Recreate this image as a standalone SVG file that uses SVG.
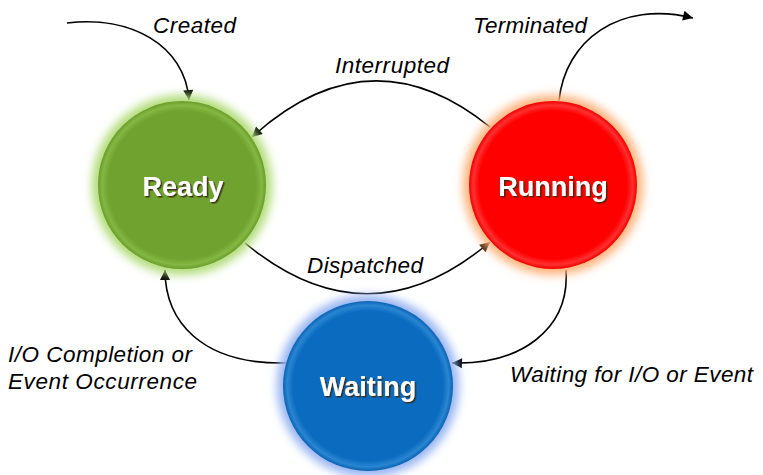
<svg xmlns="http://www.w3.org/2000/svg" width="763" height="475" viewBox="0 0 763 475">
<style>
.lbl{font-family:"Liberation Sans",Arial,sans-serif;font-style:italic;font-size:22.5px;fill:#000}
.node{font-family:"Liberation Sans",Arial,sans-serif;font-weight:bold;font-size:27px;fill:#fff;text-anchor:middle;filter:url(#ts)}
.edge{fill:none;stroke:#000;stroke-width:1.6}
</style>
<defs>
<marker id="ah" viewBox="0 0 10 10" refX="10" refY="5" markerWidth="12" markerHeight="10" markerUnits="userSpaceOnUse" orient="auto"><path d="M0,0 L10,5 L0,10 z" fill="#000"/></marker>
<marker id="ahb" viewBox="0 0 10 10" refX="10" refY="5" markerWidth="12" markerHeight="10" markerUnits="userSpaceOnUse" orient="auto"><path d="M0,0 L10,5 L0,10 z" fill="#3d2410"/></marker>
<filter id="glow" x="-30%" y="-30%" width="160%" height="160%"><feGaussianBlur stdDeviation="5"/></filter>
<filter id="ts" x="-10%" y="-20%" width="130%" height="150%"><feDropShadow dx="1.5" dy="1.5" stdDeviation="0.6" flood-color="#3a2a10" flood-opacity="0.9"/></filter>
<radialGradient id="gG" cx="50%" cy="50%" r="50%"><stop offset="0.88" stop-color="#6fa22e"/><stop offset="0.95" stop-color="#84b842"/><stop offset="1" stop-color="#6a9c2c"/></radialGradient>
<radialGradient id="gR" cx="50%" cy="50%" r="50%"><stop offset="0.88" stop-color="#ff0000"/><stop offset="0.95" stop-color="#ff3030"/><stop offset="1" stop-color="#f00000"/></radialGradient>
<radialGradient id="gB" cx="50%" cy="50%" r="50%"><stop offset="0.88" stop-color="#0a6bbf"/><stop offset="0.95" stop-color="#2a86d2"/><stop offset="1" stop-color="#0a62b0"/></radialGradient>
</defs>
<rect width="763" height="475" fill="#fff"/>
<g id="connectors">
<path class="edge" d="M67,23 C130,15 185,45 189,100" marker-end="url(#ah)"/>
<path class="edge" d="M559,101 C565,40 620,0 693,18" marker-end="url(#ah)"/>
<path class="edge" d="M490,127 Q370,30 252,137" marker-end="url(#ah)"/>
<path class="edge" d="M245,243 Q368,345 490,242" marker-end="url(#ahb)"/>
<path class="edge" d="M566,270 C570,330 520,365 452,363" marker-end="url(#ah)"/>
<path class="edge" d="M287,363 C200,365 165,320 165,270" marker-end="url(#ah)"/>
<text class="lbl" x="153" y="33" textLength="83" lengthAdjust="spacing">Created</text>
<text class="lbl" x="473" y="33" textLength="114" lengthAdjust="spacing">Terminated</text>
<text class="lbl" x="335" y="73" textLength="114" lengthAdjust="spacing">Interrupted</text>
<text class="lbl" x="307" y="273" textLength="116" lengthAdjust="spacing">Dispatched</text>
<text class="lbl" x="8" y="362" textLength="184" lengthAdjust="spacing">I/O Completion or</text>
<text class="lbl" x="8" y="389" textLength="189" lengthAdjust="spacing">Event Occurrence</text>
<text class="lbl" x="510" y="382" textLength="243" lengthAdjust="spacing">Waiting for I/O or Event</text>
</g>
<g id="ready">
<circle cx="182" cy="185" r="90" fill="#b0dc78" filter="url(#glow)"/>
<circle cx="182" cy="185" r="84" fill="url(#gG)"/>
<text class="node" x="183" y="196">Ready</text>
</g>
<g id="running">
<circle cx="553" cy="185" r="90" fill="#ffb27a" filter="url(#glow)"/>
<circle cx="553" cy="185" r="84" fill="url(#gR)"/>
<text class="node" x="553" y="196">Running</text>
</g>
<g id="waiting">
<circle cx="368" cy="386" r="91" fill="#96b4f2" filter="url(#glow)"/>
<circle cx="368" cy="386" r="85" fill="url(#gB)"/>
<text class="node" x="368" y="396">Waiting</text>
</g>
</svg>
